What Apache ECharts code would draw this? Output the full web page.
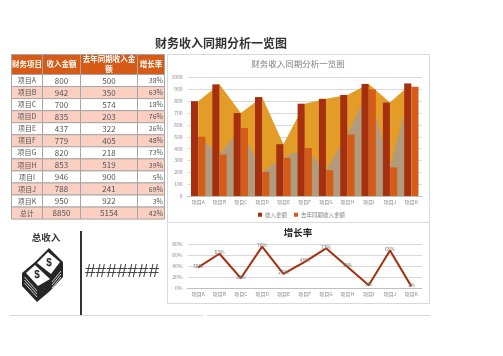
<!DOCTYPE html>
<html><head><meta charset="utf-8">
<style>html,body{margin:0;padding:0;background:#fff}#c{width:503px;height:356px}</style>
<script src="https://cdn.jsdelivr.net/npm/echarts@6/dist/echarts.min.js"></script>
</head><body><div id="c"></div>
<script>
const categories=['项目A','项目B','项目C','项目D','项目E','项目F','项目G','项目H','项目I','项目J','项目K'];
const income=[800,942,700,835,437,779,820,853,946,788,950];
const lastYear=[500,350,574,203,322,405,218,519,900,241,922];
const growth=[38,63,18,76,26,48,73,39,5,69,3];
const headers=['财务项目','收入金额','去年同期收入金\n额','增长率'];
const totalRow=['总计','8850','5154','42%'];
const FONT='"Noto Sans CJK SC","Noto Sans",sans-serif';
const RED='#a52f0e',ORANGE='#d65b16';
const g=[];
function rect(x,y,w,h,fill,stroke,lw,z){g.push({type:'rect',silent:true,z:z||1,shape:{x,y,width:w,height:h},style:{fill:fill||'transparent',stroke:stroke||null,lineWidth:lw||0}});}
function text(s,x,y,o){o=o||{};g.push({type:'text',silent:true,z:o.z||5,x,y,style:{text:s,fill:o.c||'#444',font:(o.w||'normal')+' '+(o.s||8)+'px '+(o.f||FONT),align:o.a||'center',verticalAlign:'middle',lineHeight:o.lh}});}
function poly(pts,fill,z){g.push({type:'polygon',silent:true,z:z||3,shape:{points:pts},style:{fill}});}
function seg(x1,y1,x2,y2,c,lw,z){g.push({type:'line',silent:true,z:z||3,shape:{x1,y1,x2,y2},style:{stroke:c,lineWidth:lw}});}

// page title
text('财务收入同期分析一览图',221,43,{s:12,w:'bold',c:'#333'});

// table
const colX=[11.5,42.5,80.5,137.5,164.5];
const headTop=54.5,headBottom=74.5,rowH=12.05;
const rows=categories.map((c,i)=>[c,String(income[i]),String(lastYear[i]),growth[i]+'%']).concat([totalRow]);
for(let c=0;c<4;c++){
  rect(colX[c],headTop,colX[c+1]-colX[c],headBottom-headTop,ORANGE,'#a6a6a6',1);
  text(headers[c],(colX[c]+colX[c+1])/2,(headTop+headBottom)/2,{s:7.5,w:'bold',c:'#fff',lh:10});
}
rows.forEach((r,i)=>{
  const y=headBottom+i*rowH;
  for(let c=0;c<4;c++){
    rect(colX[c],y,colX[c+1]-colX[c],rowH,i%2?'#fbcfc2':'#fff','#a6a6a6',1);
    if(c===3) text(r[c],colX[4]-1.5,y+rowH/2,{s:7,a:'right',c:'#555'});
    else text(r[c],(colX[c]+colX[c+1])/2,y+rowH/2,{s:c===0?7:8,c:'#555'});
  }
});

// chart frames
rect(167.5,54.5,262,168,null,'#d9d9d9',1,0);
rect(167.5,222.5,262,81,null,'#d9d9d9',1,0);

// left panel
text('总收入',46,237,{s:9.5,w:'bold',c:'#333'});
seg(81,231,81,315,'#333',2);
text('#######',122,272,{s:19,c:'#444',f:'"Liberation Sans",sans-serif'});
seg(10,315.5,203,315.5,'#d9d9d9',1,1);
seg(207,315.5,430,315.5,'#d9d9d9',1,1);

// money icon
const K='#262626';
poly([[22,273],[35,262],[49,248],[63,262],[63,277],[50,291],[37,302],[22,286]],K);
poly([[26,273],[35,265],[50,279],[38,286]],'#fff',4);
poly([[37,263],[48,252],[60,262],[51,274]],'#fff',4);
[[24.5,277,37,291],[24.5,280,37,294],[24.5,283,37,297]].forEach(a=>seg(a[0],a[1],a[2],a[3],'#fff',0.8,4));
[[52,282,61,271],[52,285,61,274],[52,288,61,277]].forEach(a=>seg(a[0],a[1],a[2],a[3],'#fff',0.8,4));
text('$',37,275,{s:10,w:'bold',c:K,f:'"Liberation Sans",sans-serif',z:6});
text('$',49,263,{s:10,w:'bold',c:K,f:'"Liberation Sans",sans-serif',z:6});

const axisLabel={fontSize:5,color:'#8a8a8a',fontFamily:FONT,margin:5};
const split={show:true,lineStyle:{color:'#d9d9d9',width:1}};
const xBase={type:'category',data:categories,axisTick:{show:false},axisLine:{lineStyle:{color:'#bfbfbf'}},axisLabel:{...axisLabel,interval:0,margin:4}};
const chart=echarts.init(document.getElementById('c'),null,{renderer:'canvas'});
chart.setOption({
  animation:false,
  title:[
    {text:'财务收入同期分析一览图',left:298,top:64,textAlign:'center',textVerticalAlign:'middle',padding:0,textStyle:{fontSize:8.5,fontWeight:'normal',color:'#7f7f7f',fontFamily:FONT}},
    {text:'增长率',left:298,top:232,textAlign:'center',textVerticalAlign:'middle',padding:0,textStyle:{fontSize:9.5,fontWeight:'bold',color:'#222',fontFamily:FONT}}
  ],
  legend:{data:['收入金额','去年同期收入金额'],left:258,top:212,itemWidth:4,itemHeight:4,itemGap:7,icon:'rect',padding:0,textStyle:{fontSize:5.5,color:'#7f7f7f',fontFamily:FONT,padding:[0,0,0,-2]}},
  grid:[
    {left:187.5,right:81,top:77.5,height:118.5},
    {left:187.5,right:81,top:244.5,height:43.5}
  ],
  xAxis:[{...xBase,gridIndex:0},{...xBase,gridIndex:1}],
  yAxis:[
    {type:'value',gridIndex:0,min:0,max:1000,interval:100,axisLabel:{...axisLabel,formatter:v=>String(v)},splitLine:split,axisLine:{show:false},axisTick:{show:false}},
    {type:'value',gridIndex:1,min:0,max:80,interval:20,axisLabel:{...axisLabel,formatter:'{value}%'},splitLine:split,axisLine:{show:false},axisTick:{show:false}}
  ],
  series:[
    {name:'收入面积',type:'line',data:income,symbol:'none',lineStyle:{width:0},areaStyle:{color:'#e39c28',opacity:1},z:1,silent:true},
    {name:'去年面积',type:'line',data:lastYear,symbol:'none',lineStyle:{width:0},areaStyle:{color:'#b09b7c',opacity:1},z:2,silent:true},
    {name:'收入金额',type:'bar',data:income,barWidth:7,barGap:'4%',itemStyle:{color:RED},z:3},
    {name:'去年同期收入金额',type:'bar',data:lastYear,barWidth:7,itemStyle:{color:ORANGE},z:3},
    {name:'增长率',type:'line',xAxisIndex:1,yAxisIndex:1,data:growth,symbol:'circle',symbolSize:0,showSymbol:true,lineStyle:{color:RED,width:2},
     label:{show:true,position:'top',distance:-1,fontSize:5,color:'#777',fontFamily:FONT,formatter:p=>p.value+'%'},z:3}
  ],
  graphic:{elements:g}
});
</script></body></html>
